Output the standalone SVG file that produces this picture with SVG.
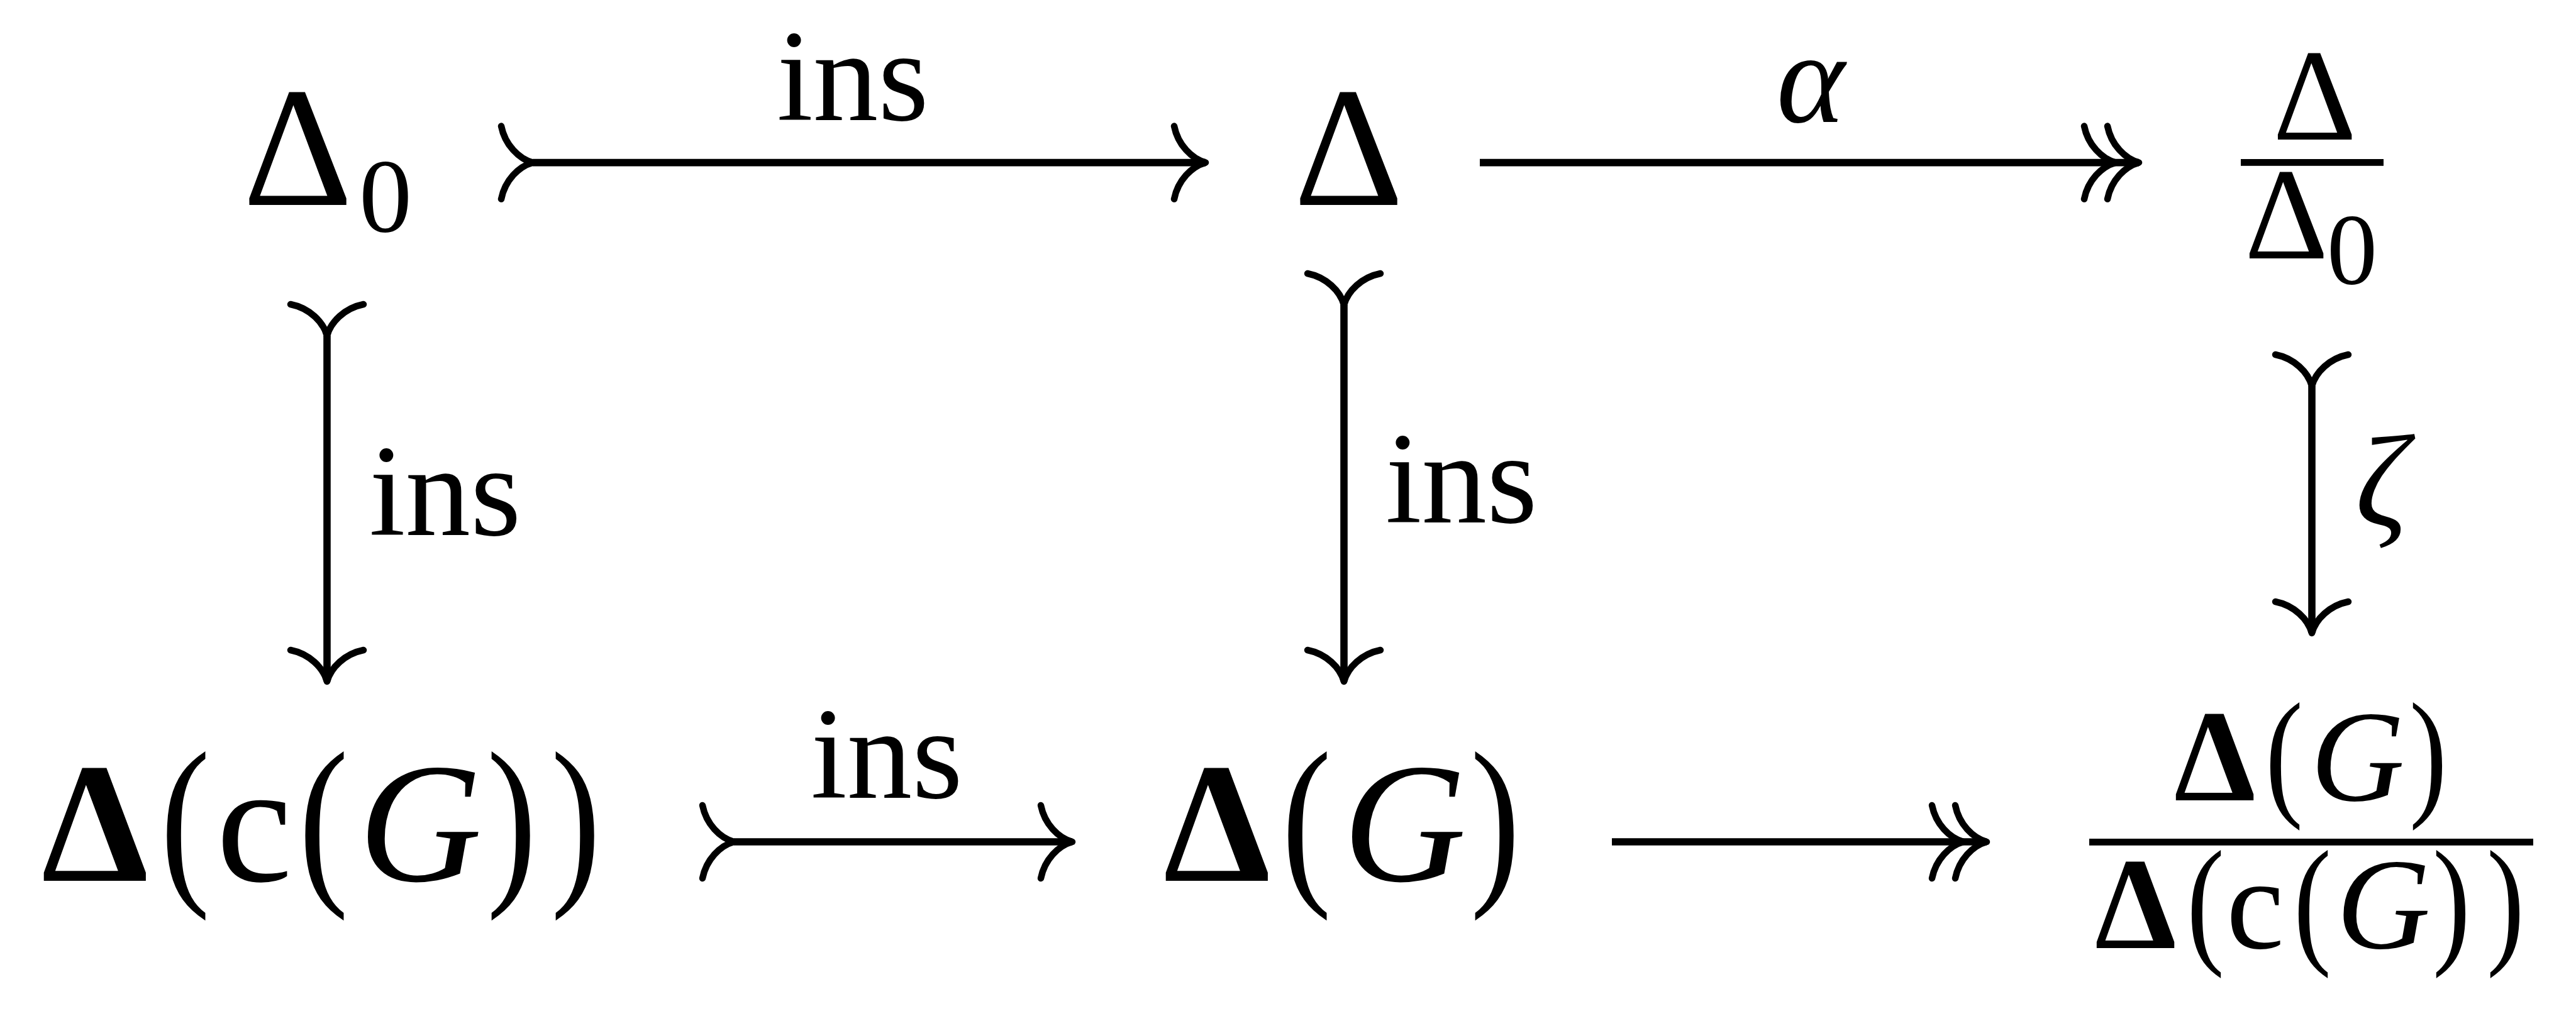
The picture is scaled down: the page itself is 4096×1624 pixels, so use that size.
<svg xmlns="http://www.w3.org/2000/svg" xmlns:xlink="http://www.w3.org/1999/xlink" width="4096" height="1624" viewBox="0 0 4096 1624">
<style>
text{font-family:"Liberation Serif","Times New Roman",serif;fill:#000}
.m{font-size:272px}
.s{font-size:207px}
.pm{font-size:297px}
.ps{font-size:225px}
.sub{font-size:168px}
.b{font-weight:bold}
.i{font-style:italic}
.ln{stroke:#000;stroke-width:11.6;fill:none}
.bar{fill:#000}
</style>
<defs>
<path id="hd" d="M-50,-58 C-44,-28 -22,-6 0,0 C-22,6 -44,28 -50,58" fill="none" stroke="#000" stroke-width="10.5" stroke-linecap="round" stroke-linejoin="round"/>
<g id="hd2"><use href="#hd" xlink:href="#hd"/><use href="#hd" xlink:href="#hd" x="-37"/></g>
</defs>
<rect width="4096" height="1624" fill="#fff"/>

<g id="n-delta0">
<text class="m" x="386" y="326">Δ</text>
<text class="sub" x="571" y="368">0</text>
</g>

<g id="n-delta">
<text class="m" x="2057" y="326">Δ</text>
</g>

<g id="n-quot-top">
<text class="s" x="3614" y="222">Δ</text>
<rect class="bar" x="3563" y="253" width="227" height="10.8"/>
<text class="s" x="3569" y="411">Δ</text>
<text class="sub" x="3700" y="451" style="font-size:160px">0</text>
</g>

<g id="n-deltacG">
<text class="m b" x="66" y="1401">Δ</text>
<text class="pm" transform="translate(255,1401) scale(0.8,1)">(</text>
<text class="m" x="344" y="1401">c</text>
<text class="pm" transform="translate(475,1401) scale(0.8,1)">(</text>
<text class="m i" x="570" y="1401">G</text>
<text class="pm" transform="translate(774,1401) scale(0.8,1)">)</text>
<text class="pm" transform="translate(876,1401) scale(0.8,1)">)</text>
</g>

<g id="n-deltaG">
<text class="m b" x="1850" y="1401">Δ</text>
<text class="pm" transform="translate(2038,1401) scale(0.8,1)">(</text>
<text class="m i" x="2135" y="1401">G</text>
<text class="pm" transform="translate(2338,1401) scale(0.8,1)">)</text>
</g>

<g id="n-quot-bottom">
<text class="s b" x="3457" y="1273">Δ</text>
<text class="ps" transform="translate(3602,1273) scale(0.8,1)">(</text>
<text class="s i" x="3674" y="1273">G</text>
<text class="ps" transform="translate(3831,1273) scale(0.8,1)">)</text>
<rect class="bar" x="3322" y="1334" width="706" height="10.8"/>
<text class="s b" x="3331" y="1508">Δ</text>
<text class="ps" transform="translate(3477,1508) scale(0.8,1)">(</text>
<text class="s" x="3540" y="1508">c</text>
<text class="ps" transform="translate(3647,1508) scale(0.8,1)">(</text>
<text class="s i" x="3715" y="1508">G</text>
<text class="ps" transform="translate(3868,1508) scale(0.8,1)">)</text>
<text class="ps" transform="translate(3954,1508) scale(0.8,1)">)</text>
</g>

<g id="connectors">
<line class="ln" x1="847" y1="258.6" x2="1917" y2="258.6"/>
<use href="#hd" xlink:href="#hd" transform="translate(847,258.6)"/>
<use href="#hd" xlink:href="#hd" transform="translate(1917,258.6)"/>
<text class="s" x="1356" y="191" text-anchor="middle">ins</text>
<line class="ln" x1="2353" y1="258.6" x2="3401" y2="258.6"/>
<use href="#hd2" xlink:href="#hd2" transform="translate(3401,258.6)"/>
<text class="s i" x="2879" y="194" text-anchor="middle">α</text>
<line class="ln" x1="520" y1="534" x2="520" y2="1084"/>
<use href="#hd" xlink:href="#hd" transform="translate(520,534) rotate(90)"/>
<use href="#hd" xlink:href="#hd" transform="translate(520,1084) rotate(90)"/>
<text class="s" x="587" y="851">ins</text>
<line class="ln" x1="2137" y1="485" x2="2137" y2="1084"/>
<use href="#hd" xlink:href="#hd" transform="translate(2137,485) rotate(90)"/>
<use href="#hd" xlink:href="#hd" transform="translate(2137,1084) rotate(90)"/>
<text class="s" x="2203" y="831">ins</text>
<line class="ln" x1="3676" y1="614" x2="3676" y2="1007"/>
<use href="#hd" xlink:href="#hd" transform="translate(3676,614) rotate(90)"/>
<use href="#hd" xlink:href="#hd" transform="translate(3676,1007) rotate(90)"/>
<text class="s i" x="3745" y="836">ζ</text>
<line class="ln" x1="1167" y1="1339" x2="1705" y2="1339"/>
<use href="#hd" xlink:href="#hd" transform="translate(1167,1339)"/>
<use href="#hd" xlink:href="#hd" transform="translate(1705,1339)"/>
<text class="s" x="1410" y="1269" text-anchor="middle">ins</text>
<line class="ln" x1="2563" y1="1339" x2="3159" y2="1339"/>
<use href="#hd2" xlink:href="#hd2" transform="translate(3159,1339)"/>
</g>
</svg>
